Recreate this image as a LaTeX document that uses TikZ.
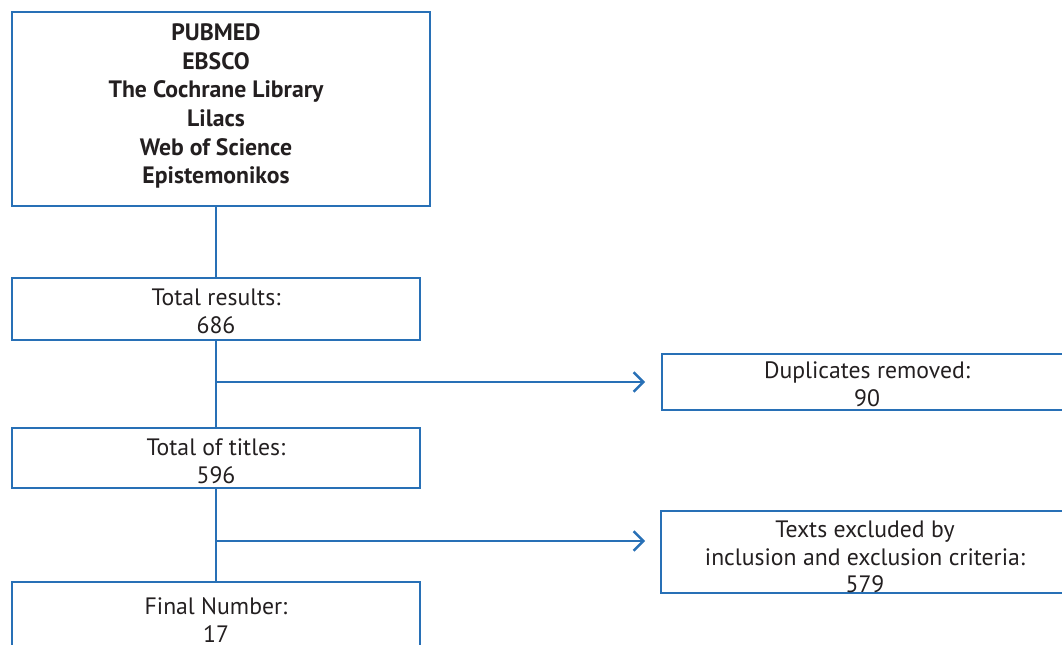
\documentclass[tikz,border=0pt]{standalone}
\usepackage{fontspec}
\setmainfont{PT Sans}
\usetikzlibrary{arrows.meta}
\definecolor{flowblue}{RGB}{40,112,182}
\definecolor{inkgray}{RGB}{35,31,32}

\begin{document}
\begin{tikzpicture}[x=0.02cm,y=-0.02cm,>={Straight Barb[length=5.5pt,width=11pt]},
  box/.style={draw=flowblue,line width=1.4pt,inner sep=0pt},
  txt/.style={align=center,text=inkgray,font=\fontsize{13.5}{15.8}\selectfont},
  link/.style={draw=flowblue,line width=1.4pt}]
  \useasboundingbox (0,0) rectangle (1062,645);
  % databases searched
  \node[box,minimum width=8.36cm,minimum height=3.88cm] (src) at (221,109) {};
  \node[txt,font=\bfseries\fontsize{13.5}{16.3}\selectfont] (srctxt) at (216,106)
    {PUBMED\\EBSCO\\The Cochrane Library\\Lilacs\\Web of Science\\Epistemonikos};
  % main column
  \node[box,minimum width=8.16cm,minimum height=1.24cm] (res) at (216,309) {};
  \node[txt] (restxt) at (216,311) {Total results:\\686};
  \node[box,minimum width=8.16cm,minimum height=1.2cm] (tit) at (216,458) {};
  \node[txt] (tittxt) at (216,461) {Total of titles:\\596};
  \node[box,minimum width=8.16cm,minimum height=1.66cm] (fin) at (216,623.5) {};
  \node[txt] (fintxt) at (216,620) {Final Number:\\17};
  % side boxes, running off the right edge
  \node[box,minimum width=8.26cm,minimum height=1.12cm] (dup) at (868.5,382) {};
  \node[txt] (duptxt) at (867,384) {Duplicates removed:\\90};
  \node[box,minimum width=8.28cm,minimum height=1.64cm] (exc) at (868,552) {};
  \node[txt] (exctxt) at (865,557) {Texts excluded by\\inclusion and exclusion criteria:\\579};
  % connectors
  \coordinate (dupin) at (645,382);
  \coordinate (excin) at (645,541);
  \draw[link] (res.north |- src.south) -- (res.north);
  \draw[link] (res.south) -- (tit.north);
  \draw[link] (tit.south) -- (fin.north);
  \draw[link,->] (res.south |- dupin) -- (dupin);
  \draw[link,->] (tit.south |- excin) -- (excin);
\end{tikzpicture}
\end{document}
